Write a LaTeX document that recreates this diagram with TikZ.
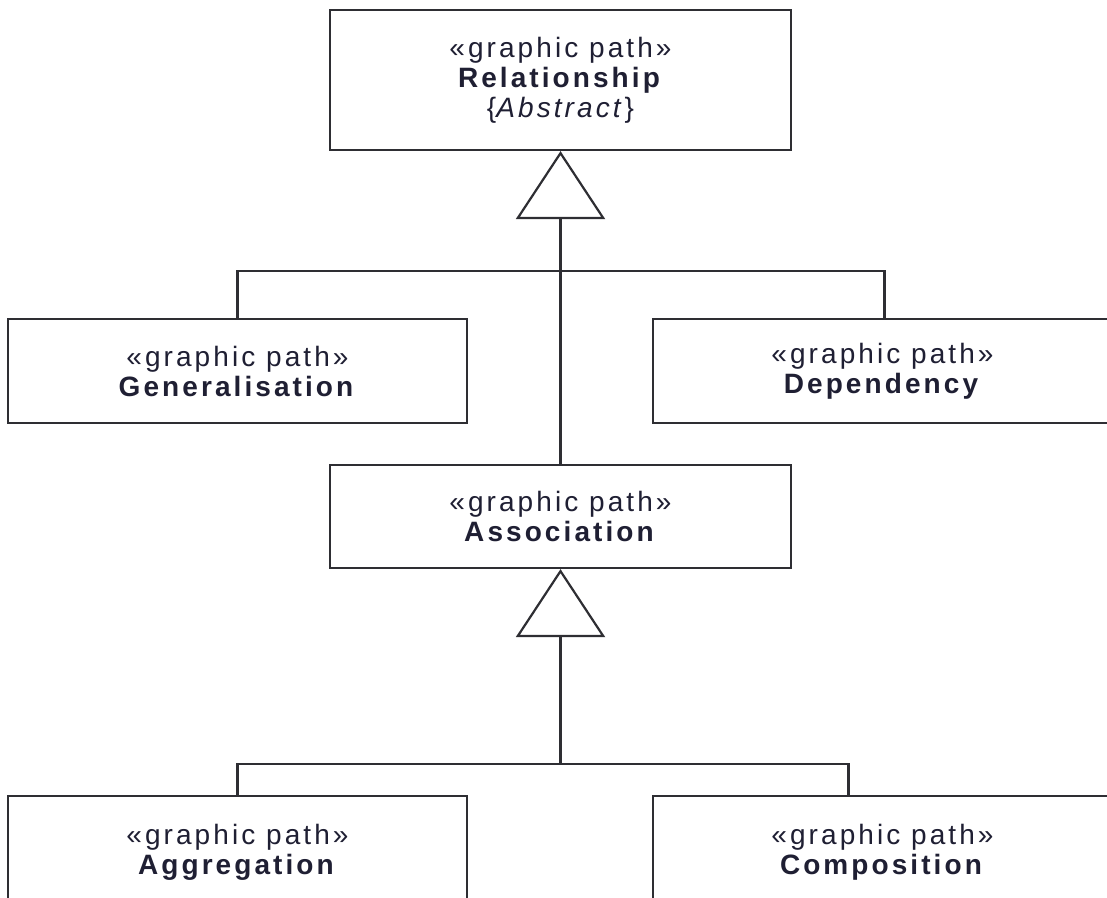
\documentclass[tikz,border=0pt]{standalone}
\usepackage{fontspec}
\newfontfamily\umlfont[LetterSpace=11]{Liberation Sans}
\usetikzlibrary{arrows.meta}
\definecolor{umlline}{rgb}{0.18,0.18,0.2}
\definecolor{umltext}{rgb}{0.12,0.12,0.2}
\newcommand{\gpath}{«graphic path»}

\begin{document}
\begin{tikzpicture}[x=0.5pt,y=-0.5pt,
    umlclass/.style={draw=umlline, line width=1.1pt, fill=white, text=umltext, align=center,
        inner sep=0pt, minimum width=229.5pt, minimum height=52pt,
        font={\umlfont\fontsize{14}{15}\selectfont}},
    conn/.style={draw=umlline, line width=1.1pt},
    inherit/.style={-{Triangle[open, length=34pt, width=44.5pt, line width=1.1pt]}}]
    \useasboundingbox (0,0) rectangle (1107,898);
    \clip (0,0) rectangle (1107,898);

    \node[umlclass, minimum width=230.5pt, minimum height=70pt] (rel) at (560.5,80)
        {\gpath\\\textbf{Relationship}\\\{\textit{Abstract}\}};
    \node[umlclass] (gen) at (237.5,371) {\gpath\\\textbf{Generalisation}};
    \node[umlclass] (dep) at (882.5,371) {\gpath\\\textbf{Dependency}};
    \node[umlclass, minimum width=230.5pt, minimum height=51.5pt] (assoc) at (560.5,516.5)
        {\gpath\\\textbf{Association}};
    \node[umlclass, minimum height=56pt] (agg) at (237.5,852) {\gpath\\\textbf{Aggregation}};
    \node[umlclass, minimum height=56pt] (comp) at (882.5,852) {\gpath\\\textbf{Composition}};

    \draw[conn] (gen.north) -- ++(0,-47) coordinate (bar1) -| ([xshift=1pt]dep.north);
    \draw[conn, inherit] (assoc.north) -- (rel.south);

    \draw[conn] (agg.north) -- ++(0,-31) coordinate (bar2) -| ([xshift=-17pt]comp.north);
    \draw[conn, inherit] (bar2 -| assoc.south) -- (assoc.south);
\end{tikzpicture}
\end{document}
